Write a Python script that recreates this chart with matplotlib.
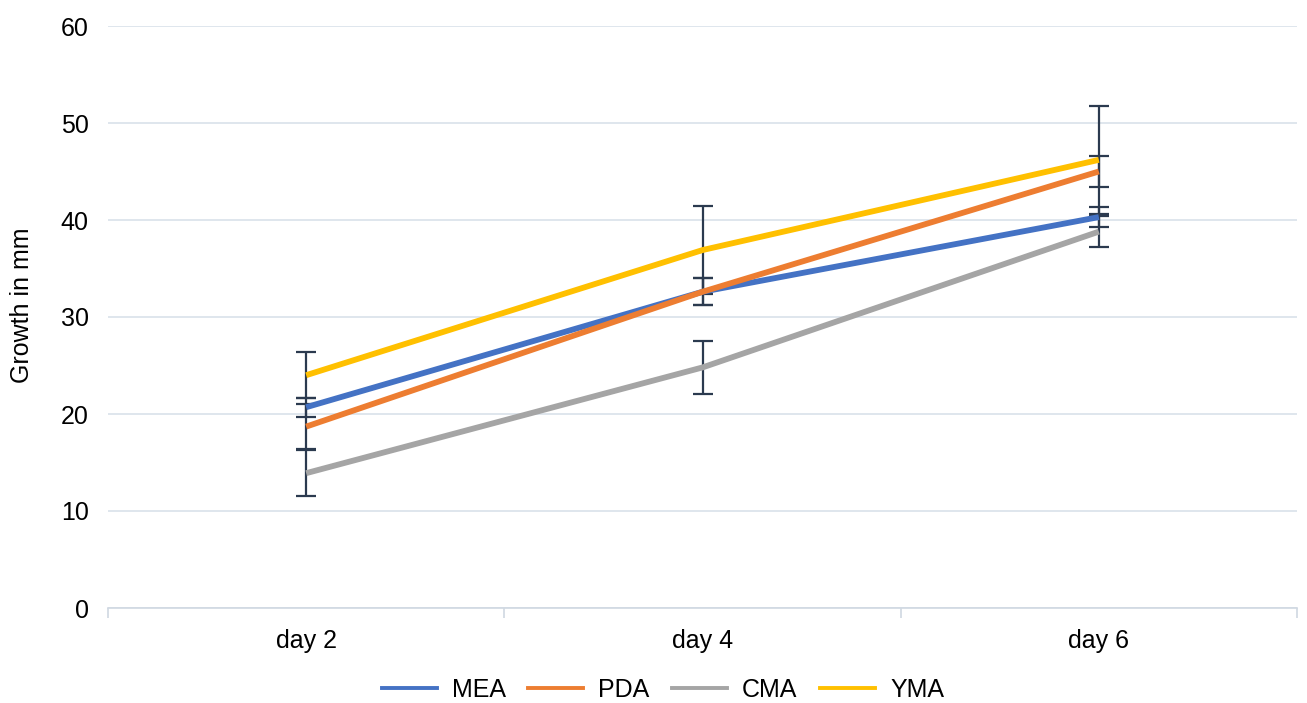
import numpy as np
import matplotlib
matplotlib.use('Agg')
import matplotlib.pyplot as plt
from matplotlib.lines import Line2D

# data
days = ['day 2', 'day 4', 'day 6']
mea = [20.7, 32.6, 40.3]
pda = [18.7, 32.6, 45.0]
cma = [13.9, 24.8, 38.8]
yma = [24.0, 36.9, 46.2]
mea_err = [1.0, 1.4, 1.0]
pda_err = [2.3, 1.4, 1.6]
cma_err = [2.4, 2.7, 1.6]
yma_err = [2.4, 4.5, 5.6]

series = [('MEA', mea, mea_err, '#4472C4'),
          ('PDA', pda, pda_err, '#ED7D31'),
          ('CMA', cma, cma_err, '#A5A5A5'),
          ('YMA', yma, yma_err, '#FFC000')]

plt.rcParams['font.family'] = ['Liberation Sans', 'DejaVu Sans']
fs = 18

fig = plt.figure(figsize=(13.07, 7.03), dpi=100)
ax = fig.add_axes([108 / 1307, 1 - 608 / 703, 1189 / 1307, 582 / 703])

x = np.arange(len(days))
for name, vals, err, col in series:
    ax.plot(x, vals, color=col, lw=4.2, zorder=3, solid_capstyle='butt')
    ax.errorbar(x, vals, yerr=err, fmt='none', ecolor='#2B3A4F', elinewidth=1.6,
                capsize=7, capthick=1.6, zorder=2)

ax.set_xlim(-0.5, 2.5)
ax.set_ylim(0, 60)
ax.set_yticks(range(0, 61, 10))
ax.yaxis.grid(True, color='#D9E1EA', lw=1.2)
ax.set_axisbelow(True)
for s in ['top', 'right', 'left']:
    ax.spines[s].set_visible(False)
ax.spines['bottom'].set_color('#D0D8E2')
ax.spines['bottom'].set_linewidth(1.2)
ax.tick_params(axis='y', length=0, labelsize=fs, pad=14)
ax.set_xticks(x)
ax.set_xticklabels(days)
ax.tick_params(axis='x', length=0, labelsize=fs, pad=15)
ax.set_xticks([-0.5, 0.5, 1.5, 2.5], minor=True)
ax.tick_params(axis='x', which='minor', length=7, color='#D0D8E2', width=1.2)
fig.text(22 / 1307, 1 - 305 / 703, 'Growth in mm', rotation=90, fontsize=fs,
         ha='center', va='center')

handles = [Line2D([], [], color=c, lw=2.8) for _, _, _, c in series]
labels = [n for n, _, _, _ in series]
fig.legend(handles, labels, loc='center', bbox_to_anchor=(663 / 1307, 1 - 690 / 703), ncol=4,
           frameon=False, fontsize=fs, handlelength=2.2, columnspacing=0.9, handletextpad=0.6)

fig.savefig('out.png', dpi=100)
